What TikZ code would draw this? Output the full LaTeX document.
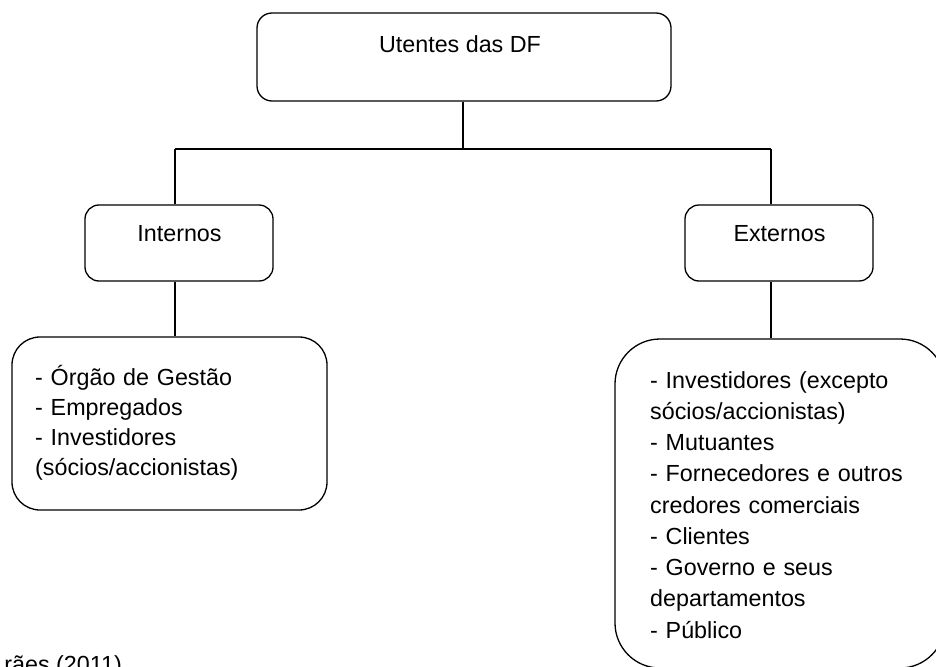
\documentclass[tikz,border=0pt]{standalone}
\usepackage{fontspec}
\setmainfont{Liberation Sans}
\begin{document}
\begin{tikzpicture}[x=1pt,y=-1pt,
  box/.style={draw=black,line width=1.3pt,rectangle,inner sep=0pt},
  conn/.style={draw=black,line width=1.2pt},
  lbl/.style={inner sep=0pt,font=\fontsize{23.3}{30}\selectfont},
  lst/.style={inner sep=0pt,align=left,anchor=base west}]
\useasboundingbox (0,0) rectangle (936,666);
\clip (0,0) rectangle (936,666);
% boxes
\node[box,rounded corners=15pt,minimum width=414pt,minimum height=88pt] (top) at (464,57) {};
\node[box,rounded corners=14pt,minimum width=188pt,minimum height=76pt] (int) at (179,243) {};
\node[box,rounded corners=14pt,minimum width=188pt,minimum height=76pt] (ext) at (779,243) {};
\node[box,rounded corners=28pt,minimum width=315pt,minimum height=173pt] (lbox) at (169.5,423.5) {};
\node[box,rounded corners=45pt,minimum width=330pt,minimum height=329pt] (rbox) at (780,503.5) {};
% texts
\node[lbl,anchor=base] (ttop) at (460,53) {Utentes das DF};
\node[lbl,anchor=base] (tint) at (179.5,241) {Internos};
\node[lbl,anchor=base] (text) at (779.5,241) {Externos};
\node[lbl,lst,text width=300pt] (tl) at (35,385) {- Órgão de Gestão\\- Empregados\\- Investidores\\(sócios/accionistas)};
\node[lbl,lst,text width=285pt,font=\fontsize{23.3}{31.25}\selectfont] (tr) at (650,388) {- Investidores (excepto\\sócios/accionistas)\\- Mutuantes\\- Fornecedores e outros\\credores comerciais\\- Clientes\\- Governo e seus\\departamentos\\- Público};
\node[lbl,anchor=base east] (src) at (122,672) {rães (2011)};
% connectors
\coordinate (bus) at (463,149);
\coordinate (busl) at (175,149);
\coordinate (busr) at (771,149);
\draw[conn] (top.south -| bus) -- (bus);
\draw[conn] (busl) -- (busr);
\draw[conn] (busl) -- (busl |- int.north);
\draw[conn] (busr) -- (busr |- ext.north);
\draw[conn] (busl |- int.south) -- (busl |- lbox.north);
\draw[conn] (busr |- ext.south) -- (busr |- rbox.north);
\end{tikzpicture}
\end{document}
